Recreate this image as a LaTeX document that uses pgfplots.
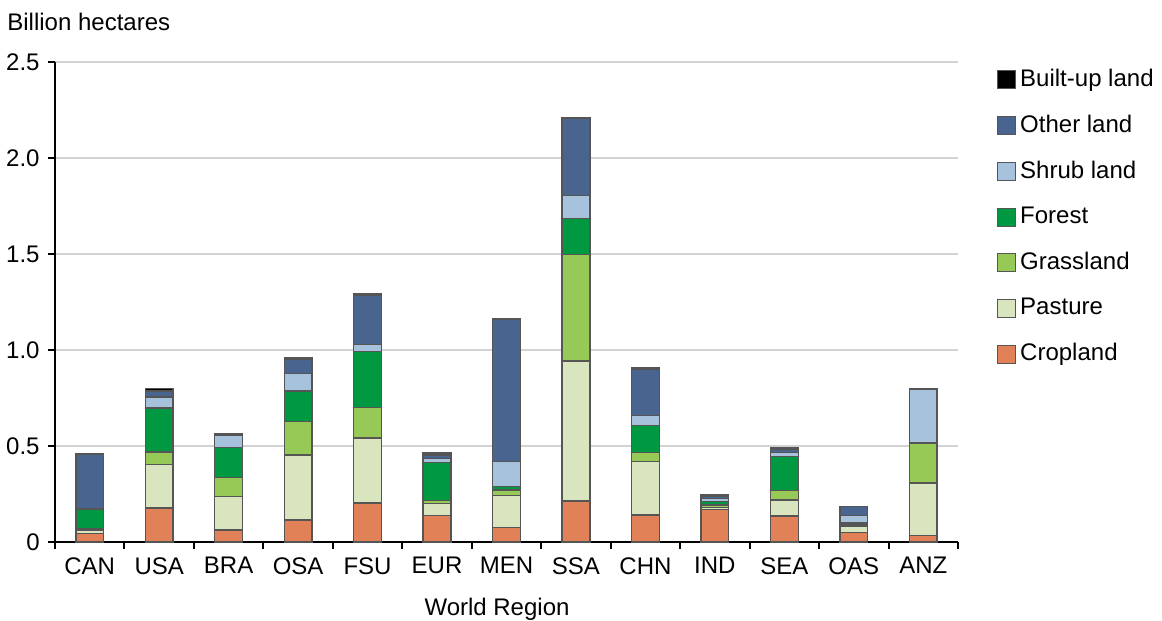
\documentclass[border=0pt]{standalone}
\usepackage{pgfplots}
\pgfplotsset{compat=1.18}
\usepackage{pgfplotstable}
\usepackage{fontspec}
\setmainfont{Liberation Sans}

\definecolor{crop}{HTML}{E08158}
\definecolor{pasture}{HTML}{D9E5BF}
\definecolor{grass}{HTML}{97C957}
\definecolor{forest}{HTML}{009942}
\definecolor{shrub}{HTML}{A7C2DD}
\definecolor{other}{HTML}{49658F}
\definecolor{built}{HTML}{000000}
\definecolor{edge}{HTML}{555555}

% billion hectares, stacked from the bottom
\pgfplotstableread{
x  crop  pasture grass forest shrub other built
0  0.043 0.016   0.009 0.102  0.002 0.285 0.002
1  0.177 0.228   0.064 0.229  0.057 0.031 0.012
2  0.063 0.175   0.099 0.156  0.064 0.003 0.002
3  0.115 0.338   0.175 0.158  0.092 0.075 0.007
4  0.203 0.339   0.158 0.293  0.037 0.257 0.005
5  0.137 0.064   0.014 0.198  0.021 0.019 0.010
6  0.076 0.165   0.030 0.017  0.130 0.740 0.003
7  0.214 0.729   0.555 0.188  0.120 0.401 0.004
8  0.141 0.277   0.047 0.143  0.052 0.241 0.009
9  0.170 0.010   0.013 0.017  0.016 0.014 0.008
10 0.135 0.084   0.048 0.177  0.023 0.016 0.007
11 0.049 0.034   0.009 0.008  0.037 0.047 0.002
12 0.035 0.272   0.205 0.007  0.276 0.002 0.002
}\landdata

\begin{document}
\fontsize{12}{14.4}\selectfont
\begin{tikzpicture}
\useasboundingbox (-27.5pt,-39.5pt) rectangle (553.5pt,271pt);
\begin{axis}[
    scale only axis,
    width=451.5pt, height=240pt,
    ybar stacked,
    bar width=0.4,
    xmin=-0.5, xmax=12.5,
    ymin=0, ymax=2.5,
    axis x line*=bottom,
    axis y line*=left,
    axis line style={line width=1pt},
    xtick={0,...,12},
    xticklabels={CAN,USA,BRA,OSA,FSU,EUR,MEN,SSA,CHN,IND,SEA,OAS,ANZ},
    minor xtick={-0.5,0.5,...,12.5},
    major x tick style={draw=none},
    ytick={0,0.5,1.0,1.5,2.0,2.5},
    yticklabels={0,0.5,1.0,1.5,2.0,2.5},
    tick align=outside,
    major tick length=3.5pt,
    minor tick length=3.5pt,
    tick style={black, line width=1pt},
    ymajorgrids,
    grid style={gray!35, line width=0.7pt},
    xlabel={World Region},
    xlabel style={at={(axis description cs:0.4895,-0.14)}, anchor=center},
    ylabel={Billion hectares},
    ylabel style={rotate=-90, at={(axis description cs:-0.062,1.083)}, anchor=west},
    /pgf/number format/assume math mode=true,
    reverse legend,
    legend cell align=left,
    legend style={at={(1.043,0.995)}, anchor=north west, draw=none, fill=none,
        inner sep=0pt, row sep=8.55pt, font=\fontsize{12}{14.4}\selectfont},
    legend image code/.code={\draw[#1, draw=edge, line width=0.5pt] (0pt,-4.5pt) rectangle (9pt,4.5pt);},
    every axis plot/.append style={draw=edge, line width=0.7pt},
]
\addplot[fill=crop]    table[x=x, y=crop]    {\landdata};
\addlegendentry{Cropland}
\addplot[fill=pasture] table[x=x, y=pasture] {\landdata};
\addlegendentry{Pasture}
\addplot[fill=grass]   table[x=x, y=grass]   {\landdata};
\addlegendentry{Grassland}
\addplot[fill=forest]  table[x=x, y=forest]  {\landdata};
\addlegendentry{Forest}
\addplot[fill=shrub]   table[x=x, y=shrub]   {\landdata};
\addlegendentry{Shrub land}
\addplot[fill=other]   table[x=x, y=other]   {\landdata};
\addlegendentry{Other land}
\addplot[fill=built]   table[x=x, y=built]   {\landdata};
\addlegendentry{Built-up land}
\end{axis}
\end{tikzpicture}
\end{document}
